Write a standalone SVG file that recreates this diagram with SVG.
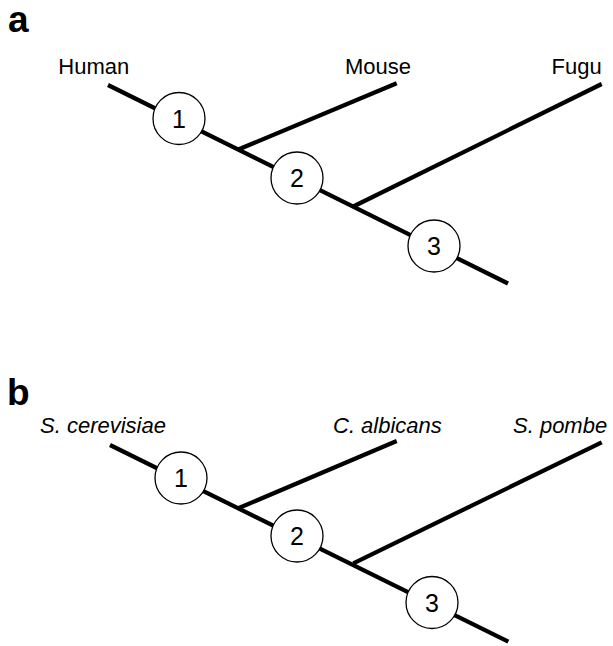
<svg xmlns="http://www.w3.org/2000/svg" width="613" height="646" viewBox="0 0 613 646">
<style>
.br{stroke:#000;stroke-width:4.2;fill:none;stroke-linecap:butt}
.nd circle{fill:#fff;stroke:#000;stroke-width:1.3}
.num{font-family:"Liberation Sans",Arial,sans-serif;font-size:25px;text-anchor:middle;fill:#000}
.lab{font-family:"Liberation Sans",Arial,sans-serif;font-size:22px;fill:#000}
.it{font-style:italic}
.pl{font-family:"Liberation Sans",Arial,sans-serif;font-size:37px;font-weight:bold;fill:#000}
</style>
<rect width="613" height="646" fill="#fff"/>
<text class="pl" x="8" y="32">a</text>
<text class="pl" x="7" y="405">b</text>
<g id="connectors">
  <line class="br" x1="108" y1="85" x2="508" y2="283.5"/>
  <line class="br" x1="238.3" y1="149.5" x2="396.7" y2="83.3"/>
  <line class="br" x1="353.3" y1="206.5" x2="601.7" y2="84"/>
  <line class="br" x1="110" y1="445" x2="508.3" y2="641.7"/>
  <line class="br" x1="238.3" y1="508.3" x2="396.7" y2="441"/>
  <line class="br" x1="353.3" y1="563.3" x2="601.7" y2="442.3"/>
</g>
<g id="labels-a">
  <text class="lab" x="58.3" y="74">Human</text>
  <text class="lab" x="345" y="74">Mouse</text>
  <text class="lab" x="551.5" y="74">Fugu</text>
</g>
<g id="labels-b">
  <text class="lab it" x="40" y="432.7">S. cerevisiae</text>
  <text class="lab it" x="333" y="432.7">C. albicans</text>
  <text class="lab it" x="513" y="432.7">S. pombe</text>
</g>
<g id="a-node1" class="nd"><circle cx="179" cy="118.5" r="26"/><text class="num" x="179" y="127.5">1</text></g>
<g id="a-node2" class="nd"><circle cx="297" cy="178" r="26"/><text class="num" x="297" y="187">2</text></g>
<g id="a-node3" class="nd"><circle cx="434" cy="246" r="26"/><text class="num" x="434" y="255">3</text></g>
<g id="b-node1" class="nd"><circle cx="181" cy="478" r="26"/><text class="num" x="181" y="487">1</text></g>
<g id="b-node2" class="nd"><circle cx="297" cy="536" r="26"/><text class="num" x="297" y="545">2</text></g>
<g id="b-node3" class="nd"><circle cx="432" cy="602.5" r="26"/><text class="num" x="432" y="611.5">3</text></g>
</svg>
